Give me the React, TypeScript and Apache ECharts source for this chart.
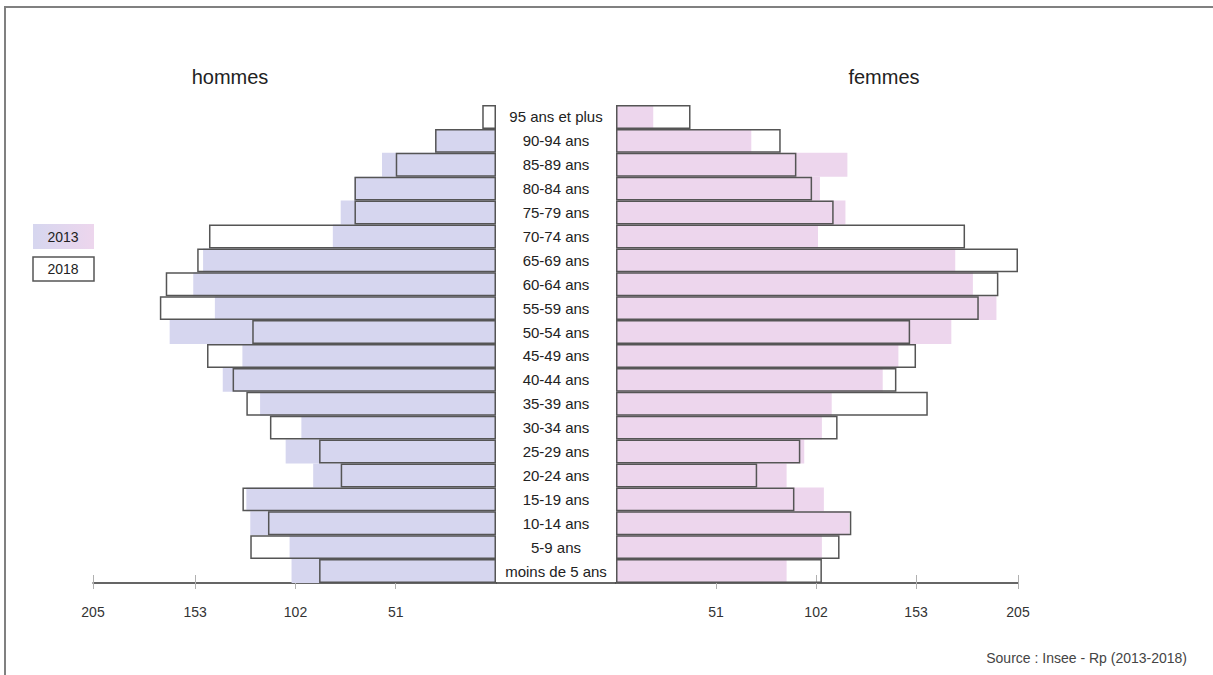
import React, { useEffect, useRef } from "react";
import * as echarts from "echarts";

const ageGroups = [
  "95 ans et plus", "90-94 ans", "85-89 ans", "80-84 ans", "75-79 ans",
  "70-74 ans", "65-69 ans", "60-64 ans", "55-59 ans", "50-54 ans",
  "45-49 ans", "40-44 ans", "35-39 ans", "30-34 ans", "25-29 ans",
  "20-24 ans", "15-19 ans", "10-14 ans", "5-9 ans", "moins de 5 ans",
];
const hommes2013 = [0, 31, 58, 72, 79, 83, 149, 154, 143, 166, 129, 139, 120, 99, 107, 93, 127, 125, 105, 104];
const hommes2018 = [7, 31, 51, 72, 72, 146, 152, 168, 171, 124, 147, 134, 127, 115, 90, 79, 129, 116, 125, 90];
const femmes2013 = [19, 69, 118, 104, 117, 103, 173, 182, 194, 171, 144, 136, 110, 105, 96, 87, 106, 119, 105, 87];
const femmes2018 = [38, 84, 92, 100, 111, 178, 205, 195, 185, 150, 153, 143, 159, 113, 94, 72, 91, 120, 114, 105];
const tickValues = [51, 102, 153, 205];
const years = ["2013", "2018"];
const sideTitles = ["hommes", "femmes"];
const sourceText = "Source : Insee - Rp (2013-2018)";

const FONT = "'Liberation Sans', Arial, sans-serif";
const LAVENDER = "#d6d6ef";
const PINK = "#edd6ed";
const OUTLINE = "#555";

function valueAxis(gridIndex: number, inverse: boolean, inner: boolean) {
  if (inner) {
    return {
      gridIndex, type: "value", min: 0, max: 205, inverse, position: "bottom",
      axisLine: { show: false },
      axisTick: { show: true, inside: true, length: 8, customValues: tickValues, lineStyle: { color: "#b0b0b0", width: 1 } },
      axisLabel: { show: false },
      splitLine: { show: false },
    };
  }
  return {
    gridIndex, type: "value", min: 0, max: 205, inverse, position: "bottom",
    axisLine: { show: true, lineStyle: { color: "#333", width: 1.5 } },
    axisTick: { show: true, length: 6, customValues: tickValues, lineStyle: { color: "#b0b0b0", width: 1 } },
    axisLabel: { show: true, customValues: tickValues, margin: 22, fontSize: 14, color: "#333", fontFamily: FONT },
    splitLine: { show: false },
  };
}

export default function App() {
  const ref = useRef<HTMLDivElement>(null);
  useEffect(() => {
    const chart = echarts.init(ref.current!, null, { renderer: "svg" });
    const barBase = { type: "bar", barWidth: "100%", barGap: "-100%", barCategoryGap: "0%", silent: true };
    chart.setOption({
      animation: false,
      backgroundColor: "#fff",
      grid: [
        { left: 93, top: 105, width: 403, height: 478 },
        { left: 616, top: 105, width: 402, height: 478 },
      ],
      xAxis: [
        valueAxis(0, true, false),
        valueAxis(1, false, false),
        valueAxis(0, true, true),
        valueAxis(1, false, true),
      ],
      yAxis: [
        { gridIndex: 0, type: "category", data: ageGroups, inverse: true, show: false },
        {
          gridIndex: 1, type: "category", data: ageGroups, inverse: true,
          axisLine: { show: false }, axisTick: { show: false },
          axisLabel: { margin: 60, align: "center", fontSize: 15, color: "#222", fontFamily: FONT, interval: 0 },
        },
      ],
      series: [
        { ...barBase, name: years[0], xAxisIndex: 0, yAxisIndex: 0, data: hommes2013, itemStyle: { color: LAVENDER } },
        { ...barBase, name: years[1], xAxisIndex: 0, yAxisIndex: 0, data: hommes2018, itemStyle: { color: "rgba(0,0,0,0)", borderColor: OUTLINE, borderWidth: 1.5 } },
        { ...barBase, name: years[0], xAxisIndex: 1, yAxisIndex: 1, data: femmes2013, itemStyle: { color: PINK } },
        { ...barBase, name: years[1], xAxisIndex: 1, yAxisIndex: 1, data: femmes2018, itemStyle: { color: "rgba(0,0,0,0)", borderColor: OUTLINE, borderWidth: 1.5 } },
      ],
      graphic: [
        { type: "line", shape: { x1: 4, y1: 7, x2: 1213, y2: 7 }, style: { stroke: "#808080", lineWidth: 2 } },
        { type: "line", shape: { x1: 5, y1: 7, x2: 5, y2: 675 }, style: { stroke: "#808080", lineWidth: 2 } },
        { type: "line", shape: { x1: 496, y1: 583, x2: 616, y2: 583 }, style: { stroke: "#333", lineWidth: 1.5 } },
        { type: "text", x: 230, y: 77, style: { text: sideTitles[0], fontSize: 20, fontFamily: FONT, fill: "#222", textAlign: "center", textVerticalAlign: "middle" } },
        { type: "text", x: 884, y: 77, style: { text: sideTitles[1], fontSize: 20, fontFamily: FONT, fill: "#222", textAlign: "center", textVerticalAlign: "middle" } },
        {
          type: "rect", shape: { x: 33, y: 224, width: 61, height: 25 },
          style: {
            fill: new echarts.graphic.LinearGradient(0, 0, 1, 0, [
              { offset: 0, color: LAVENDER },
              { offset: 1, color: PINK },
            ]),
          },
        },
        { type: "text", x: 63, y: 237, style: { text: years[0], fontSize: 14, fontFamily: FONT, fill: "#222", textAlign: "center", textVerticalAlign: "middle" } },
        { type: "rect", shape: { x: 33, y: 257, width: 61, height: 24 }, style: { fill: "#fff", stroke: OUTLINE, lineWidth: 1.5 } },
        { type: "text", x: 63, y: 269, style: { text: years[1], fontSize: 14, fontFamily: FONT, fill: "#222", textAlign: "center", textVerticalAlign: "middle" } },
        { type: "text", x: 1187, y: 658, style: { text: sourceText, fontSize: 14, fontFamily: FONT, fill: "#444", textAlign: "right", textVerticalAlign: "middle" } },
      ],
    });
    return () => chart.dispose();
  }, []);
  return (
    <div
      ref={ref}
      style={{ position: "absolute", left: 0, top: 0, width: 1213, height: 675, background: "#fff" }}
    />
  );
}
